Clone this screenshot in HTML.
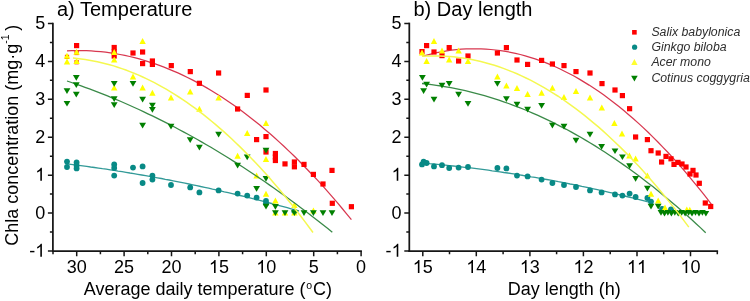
<!DOCTYPE html><html><head><meta charset="utf-8"><style>html,body{margin:0;padding:0;background:#fff;}svg{display:block;font-family:"Liberation Sans",sans-serif;will-change:transform;}</style></head><body>
<svg width="750" height="301" viewBox="0 0 750 301">
<rect width="750" height="301" fill="#fff"/>
<path d="M52.9,22.649999999999988 L52.9,252.0" stroke="#161616" stroke-width="1.75" fill="none"/>
<path d="M52.0,251.0 L361.90000000000003,251.0" stroke="#161616" stroke-width="1.75" fill="none"/>
<path d="M47.9,251.0 L52.9,251.0 M47.9,213.1 L52.9,213.1 M47.9,175.2 L52.9,175.2 M47.9,137.2 L52.9,137.2 M47.9,99.3 L52.9,99.3 M47.9,61.4 L52.9,61.4 M47.9,23.4 L52.9,23.4 M49.9,232.1 L52.9,232.1 M49.9,194.1 L52.9,194.1 M49.9,156.2 L52.9,156.2 M49.9,118.3 L52.9,118.3 M49.9,80.3 L52.9,80.3 M49.9,42.4 L52.9,42.4 M76.7,251.0 L76.7,256.2 M124.1,251.0 L124.1,256.2 M171.5,251.0 L171.5,256.2 M218.9,251.0 L218.9,256.2 M266.3,251.0 L266.3,256.2 M313.7,251.0 L313.7,256.2 M361.1,251.0 L361.1,256.2 M53.0,251.0 L53.0,254.3 M100.4,251.0 L100.4,254.3 M147.8,251.0 L147.8,254.3 M195.2,251.0 L195.2,254.3 M242.6,251.0 L242.6,254.3 M290.0,251.0 L290.0,254.3 M337.4,251.0 L337.4,254.3" stroke="#161616" stroke-width="1.5" fill="none"/>
<text x="29.20" y="256.63" font-size="18" fill="#000">-</text><path d="M763 0H583V1147Q518 1085 412.5 1023Q307 961 223 930V1104Q374 1175 487 1276Q600 1377 647 1472H763V0Z" transform="translate(35.19,256.63) scale(0.00879,-0.00879)" fill="#000"/>
<text x="35.19" y="218.70" font-size="18" fill="#000">0</text>
<path d="M763 0H583V1147Q518 1085 412.5 1023Q307 961 223 930V1104Q374 1175 487 1276Q600 1377 647 1472H763V0Z" transform="translate(35.19,180.77) scale(0.00879,-0.00879)" fill="#000"/>
<text x="35.19" y="142.84" font-size="18" fill="#000">2</text>
<text x="35.19" y="104.91" font-size="18" fill="#000">3</text>
<text x="35.19" y="66.98" font-size="18" fill="#000">4</text>
<text x="35.19" y="29.05" font-size="18" fill="#000">5</text>
<text x="66.69" y="273.00" font-size="18" fill="#000">3</text><text x="76.70" y="273.00" font-size="18" fill="#000">0</text>
<text x="114.09" y="273.00" font-size="18" fill="#000">2</text><text x="124.10" y="273.00" font-size="18" fill="#000">5</text>
<text x="161.49" y="273.00" font-size="18" fill="#000">2</text><text x="171.50" y="273.00" font-size="18" fill="#000">0</text>
<path d="M763 0H583V1147Q518 1085 412.5 1023Q307 961 223 930V1104Q374 1175 487 1276Q600 1377 647 1472H763V0Z" transform="translate(208.89,273.00) scale(0.00879,-0.00879)" fill="#000"/><text x="218.90" y="273.00" font-size="18" fill="#000">5</text>
<path d="M763 0H583V1147Q518 1085 412.5 1023Q307 961 223 930V1104Q374 1175 487 1276Q600 1377 647 1472H763V0Z" transform="translate(256.29,273.00) scale(0.00879,-0.00879)" fill="#000"/><text x="266.30" y="273.00" font-size="18" fill="#000">0</text>
<text x="308.69" y="273.00" font-size="18" fill="#000">5</text>
<text x="356.09" y="273.00" font-size="18" fill="#000">0</text>
<path d="M409.3,22.649999999999988 L409.3,252.0" stroke="#161616" stroke-width="1.75" fill="none"/>
<path d="M408.40000000000003,251.0 L718.0999999999999,251.0" stroke="#161616" stroke-width="1.75" fill="none"/>
<path d="M404.3,251.0 L409.3,251.0 M404.3,213.1 L409.3,213.1 M404.3,175.2 L409.3,175.2 M404.3,137.2 L409.3,137.2 M404.3,99.3 L409.3,99.3 M404.3,61.4 L409.3,61.4 M404.3,23.4 L409.3,23.4 M406.3,232.1 L409.3,232.1 M406.3,194.1 L409.3,194.1 M406.3,156.2 L409.3,156.2 M406.3,118.3 L409.3,118.3 M406.3,80.3 L409.3,80.3 M406.3,42.4 L409.3,42.4 M422.8,251.0 L422.8,256.2 M476.3,251.0 L476.3,256.2 M529.9,251.0 L529.9,256.2 M583.4,251.0 L583.4,256.2 M637.0,251.0 L637.0,256.2 M690.5,251.0 L690.5,256.2 M449.5,251.0 L449.5,254.3 M503.1,251.0 L503.1,254.3 M556.6,251.0 L556.6,254.3 M610.2,251.0 L610.2,254.3 M663.7,251.0 L663.7,254.3 M717.3,251.0 L717.3,254.3" stroke="#161616" stroke-width="1.5" fill="none"/>
<text x="385.60" y="256.63" font-size="18" fill="#000">-</text><path d="M763 0H583V1147Q518 1085 412.5 1023Q307 961 223 930V1104Q374 1175 487 1276Q600 1377 647 1472H763V0Z" transform="translate(391.59,256.63) scale(0.00879,-0.00879)" fill="#000"/>
<text x="391.59" y="218.70" font-size="18" fill="#000">0</text>
<path d="M763 0H583V1147Q518 1085 412.5 1023Q307 961 223 930V1104Q374 1175 487 1276Q600 1377 647 1472H763V0Z" transform="translate(391.59,180.77) scale(0.00879,-0.00879)" fill="#000"/>
<text x="391.59" y="142.84" font-size="18" fill="#000">2</text>
<text x="391.59" y="104.91" font-size="18" fill="#000">3</text>
<text x="391.59" y="66.98" font-size="18" fill="#000">4</text>
<text x="391.59" y="29.05" font-size="18" fill="#000">5</text>
<path d="M763 0H583V1147Q518 1085 412.5 1023Q307 961 223 930V1104Q374 1175 487 1276Q600 1377 647 1472H763V0Z" transform="translate(412.74,273.00) scale(0.00879,-0.00879)" fill="#000"/><text x="422.75" y="273.00" font-size="18" fill="#000">5</text>
<path d="M763 0H583V1147Q518 1085 412.5 1023Q307 961 223 930V1104Q374 1175 487 1276Q600 1377 647 1472H763V0Z" transform="translate(466.29,273.00) scale(0.00879,-0.00879)" fill="#000"/><text x="476.30" y="273.00" font-size="18" fill="#000">4</text>
<path d="M763 0H583V1147Q518 1085 412.5 1023Q307 961 223 930V1104Q374 1175 487 1276Q600 1377 647 1472H763V0Z" transform="translate(519.84,273.00) scale(0.00879,-0.00879)" fill="#000"/><text x="529.85" y="273.00" font-size="18" fill="#000">3</text>
<path d="M763 0H583V1147Q518 1085 412.5 1023Q307 961 223 930V1104Q374 1175 487 1276Q600 1377 647 1472H763V0Z" transform="translate(573.39,273.00) scale(0.00879,-0.00879)" fill="#000"/><text x="583.40" y="273.00" font-size="18" fill="#000">2</text>
<path d="M763 0H583V1147Q518 1085 412.5 1023Q307 961 223 930V1104Q374 1175 487 1276Q600 1377 647 1472H763V0Z" transform="translate(626.94,273.00) scale(0.00879,-0.00879)" fill="#000"/><path d="M763 0H583V1147Q518 1085 412.5 1023Q307 961 223 930V1104Q374 1175 487 1276Q600 1377 647 1472H763V0Z" transform="translate(636.95,273.00) scale(0.00879,-0.00879)" fill="#000"/>
<path d="M763 0H583V1147Q518 1085 412.5 1023Q307 961 223 930V1104Q374 1175 487 1276Q600 1377 647 1472H763V0Z" transform="translate(680.49,273.00) scale(0.00879,-0.00879)" fill="#000"/><text x="690.50" y="273.00" font-size="18" fill="#000">0</text>
<text x="57" y="15.6" font-size="20" fill="#000">a) Temperature</text>
<text x="413.5" y="15.6" font-size="20" fill="#000">b) Day length</text>
<text x="83.8" y="294.6" font-size="18" fill="#000">Average daily temperature (<tspan font-size="10.5" dy="-6" dx="0.6">o</tspan><tspan dy="6" dx="0.9">C)</tspan></text>
<text x="507.8" y="294.6" font-size="18" fill="#000">Day length (h)</text>
<text transform="translate(17.8,245.8) rotate(-90)" x="0" y="0" font-size="18" fill="#000">Chla concentration (mg·g<tspan font-size="10.5" dy="-8.5">-1</tspan><tspan dy="8.5" dx="3.5">)</tspan></text>
<path d="M67.0,163.9 L70.9,164.4 L74.9,164.9 L78.8,165.4 L82.7,165.9 L86.7,166.4 L90.6,167.0 L94.5,167.5 L98.5,168.1 L102.4,168.7 L106.3,169.2 L110.3,169.8 L114.2,170.4 L118.1,171.1 L122.1,171.7 L126.0,172.3 L129.9,173.0 L133.8,173.6 L137.8,174.3 L141.7,175.0 L145.6,175.7 L149.6,176.4 L153.5,177.1 L157.4,177.8 L161.4,178.5 L165.3,179.3 L169.2,180.0 L173.2,180.8 L177.1,181.6 L181.0,182.4 L185.0,183.2 L188.9,184.0 L192.8,184.8 L196.8,185.6 L200.7,186.5 L204.6,187.3 L208.6,188.2 L212.5,189.1 L216.4,189.9 L220.4,190.8 L224.3,191.8 L228.2,192.7 L232.2,193.6 L236.1,194.5 L240.0,195.5 L243.9,196.4 L247.9,197.4 L251.8,198.4 L255.7,199.4 L259.7,200.4 L263.6,201.4 L267.5,202.4 L271.5,203.5 L275.4,204.5 L279.3,205.6 L283.3,206.7 L287.2,207.7 L291.1,208.8 L295.1,209.9 L299.0,211.0" stroke="#339a98" stroke-width="1.35" fill="none"/>
<path d="M422.0,163.0 L425.9,163.3 L429.8,163.7 L433.7,164.0 L437.6,164.4 L441.5,164.8 L445.4,165.2 L449.3,165.6 L453.2,166.0 L457.1,166.4 L461.0,166.8 L464.9,167.3 L468.8,167.7 L472.7,168.2 L476.6,168.7 L480.5,169.2 L484.4,169.7 L488.3,170.2 L492.2,170.8 L496.1,171.3 L500.0,171.9 L503.9,172.5 L507.8,173.0 L511.7,173.6 L515.6,174.2 L519.5,174.8 L523.4,175.5 L527.3,176.1 L531.2,176.8 L535.1,177.4 L538.9,178.1 L542.8,178.8 L546.7,179.5 L550.6,180.2 L554.5,180.9 L558.4,181.7 L562.3,182.4 L566.2,183.2 L570.1,184.0 L574.0,184.7 L577.9,185.5 L581.8,186.4 L585.7,187.2 L589.6,188.0 L593.5,188.8 L597.4,189.7 L601.3,190.6 L605.2,191.4 L609.1,192.3 L613.0,193.2 L616.9,194.2 L620.8,195.1 L624.7,196.0 L628.6,197.0 L632.5,197.9 L636.4,198.9 L640.3,199.9 L644.2,200.9 L648.1,201.9 L652.0,202.9" stroke="#339a98" stroke-width="1.35" fill="none"/>
<circle cx="67.0" cy="161.6" r="2.9" fill="#088a86"/>
<circle cx="67.0" cy="167.0" r="2.9" fill="#088a86"/>
<circle cx="76.6" cy="162.4" r="2.9" fill="#088a86"/>
<circle cx="76.6" cy="165.6" r="2.9" fill="#088a86"/>
<circle cx="76.6" cy="168.4" r="2.9" fill="#088a86"/>
<circle cx="114.2" cy="164.4" r="2.9" fill="#088a86"/>
<circle cx="114.2" cy="168.0" r="2.9" fill="#088a86"/>
<circle cx="114.2" cy="175.6" r="2.9" fill="#088a86"/>
<circle cx="133.0" cy="167.6" r="2.9" fill="#088a86"/>
<circle cx="142.6" cy="166.4" r="2.9" fill="#088a86"/>
<circle cx="142.6" cy="183.0" r="2.9" fill="#088a86"/>
<circle cx="152.4" cy="175.6" r="2.9" fill="#088a86"/>
<circle cx="152.4" cy="179.6" r="2.9" fill="#088a86"/>
<circle cx="171.0" cy="185.0" r="2.9" fill="#088a86"/>
<circle cx="190.2" cy="187.4" r="2.9" fill="#088a86"/>
<circle cx="199.4" cy="192.4" r="2.9" fill="#088a86"/>
<circle cx="218.6" cy="190.4" r="2.9" fill="#088a86"/>
<circle cx="237.6" cy="193.6" r="2.9" fill="#088a86"/>
<circle cx="247.2" cy="195.6" r="2.9" fill="#088a86"/>
<circle cx="256.6" cy="197.6" r="2.9" fill="#088a86"/>
<circle cx="266.0" cy="201.0" r="2.9" fill="#088a86"/>
<circle cx="266.0" cy="203.6" r="2.9" fill="#088a86"/>
<circle cx="294.4" cy="211.6" r="2.9" fill="#088a86"/>
<circle cx="422.0" cy="164.4" r="2.9" fill="#088a86"/>
<circle cx="423.6" cy="161.6" r="2.9" fill="#088a86"/>
<circle cx="426.6" cy="163.0" r="2.9" fill="#088a86"/>
<circle cx="434.0" cy="166.4" r="2.9" fill="#088a86"/>
<circle cx="442.0" cy="165.2" r="2.9" fill="#088a86"/>
<circle cx="449.2" cy="168.0" r="2.9" fill="#088a86"/>
<circle cx="458.6" cy="167.6" r="2.9" fill="#088a86"/>
<circle cx="468.0" cy="167.0" r="2.9" fill="#088a86"/>
<circle cx="497.4" cy="168.0" r="2.9" fill="#088a86"/>
<circle cx="506.4" cy="168.4" r="2.9" fill="#088a86"/>
<circle cx="517.0" cy="175.6" r="2.9" fill="#088a86"/>
<circle cx="527.6" cy="176.4" r="2.9" fill="#088a86"/>
<circle cx="541.6" cy="179.6" r="2.9" fill="#088a86"/>
<circle cx="552.4" cy="183.0" r="2.9" fill="#088a86"/>
<circle cx="564.0" cy="185.0" r="2.9" fill="#088a86"/>
<circle cx="576.0" cy="187.0" r="2.9" fill="#088a86"/>
<circle cx="590.0" cy="190.4" r="2.9" fill="#088a86"/>
<circle cx="601.6" cy="192.4" r="2.9" fill="#088a86"/>
<circle cx="615.0" cy="194.4" r="2.9" fill="#088a86"/>
<circle cx="622.4" cy="195.6" r="2.9" fill="#088a86"/>
<circle cx="629.6" cy="193.6" r="2.9" fill="#088a86"/>
<circle cx="635.6" cy="197.0" r="2.9" fill="#088a86"/>
<circle cx="647.4" cy="198.0" r="2.9" fill="#088a86"/>
<circle cx="651.0" cy="201.6" r="2.9" fill="#088a86"/>
<circle cx="662.0" cy="208.8" r="2.9" fill="#088a86"/>
<circle cx="671.0" cy="209.3" r="2.9" fill="#088a86"/>
<path d="M67.0,50.9 L71.8,50.7 L76.6,50.6 L81.5,50.6 L86.3,50.7 L91.1,50.9 L95.9,51.3 L100.7,51.7 L105.6,52.2 L110.4,52.9 L115.2,53.6 L120.0,54.5 L124.8,55.4 L129.7,56.5 L134.5,57.6 L139.3,58.9 L144.1,60.3 L148.9,61.8 L153.8,63.4 L158.6,65.1 L163.4,66.9 L168.2,68.8 L173.0,70.8 L177.9,72.9 L182.7,75.1 L187.5,77.5 L192.3,79.9 L197.1,82.4 L202.0,85.1 L206.8,87.9 L211.6,90.7 L216.4,93.7 L221.3,96.8 L226.1,99.9 L230.9,103.2 L235.7,106.6 L240.5,110.1 L245.4,113.7 L250.2,117.4 L255.0,121.2 L259.8,125.1 L264.6,129.2 L269.5,133.3 L274.3,137.5 L279.1,141.9 L283.9,146.3 L288.7,150.9 L293.6,155.5 L298.4,160.3 L303.2,165.2 L308.0,170.2 L312.8,175.2 L317.7,180.4 L322.5,185.7 L327.3,191.1 L332.1,196.6 L336.9,202.2 L341.8,208.0 L346.6,213.8 L351.4,219.7" stroke="#d8374f" stroke-width="1.25" fill="none"/>
<path d="M422.0,56.4 L426.9,55.1 L431.8,53.8 L436.7,52.7 L441.7,51.8 L446.6,50.9 L451.5,50.2 L456.4,49.7 L461.3,49.2 L466.2,48.9 L471.2,48.8 L476.1,48.8 L481.0,48.9 L485.9,49.1 L490.8,49.5 L495.7,50.0 L500.6,50.6 L505.6,51.4 L510.5,52.3 L515.4,53.3 L520.3,54.5 L525.2,55.8 L530.1,57.3 L535.1,58.9 L540.0,60.6 L544.9,62.4 L549.8,64.4 L554.7,66.5 L559.6,68.8 L564.5,71.2 L569.5,73.7 L574.4,76.3 L579.3,79.1 L584.2,82.1 L589.1,85.1 L594.0,88.3 L598.9,91.6 L603.9,95.1 L608.8,98.7 L613.7,102.4 L618.6,106.3 L623.5,110.3 L628.4,114.4 L633.4,118.7 L638.3,123.1 L643.2,127.6 L648.1,132.3 L653.0,137.1 L657.9,142.0 L662.8,147.1 L667.8,152.3 L672.7,157.6 L677.6,163.1 L682.5,168.7 L687.4,174.4 L692.3,180.3 L697.3,186.3 L702.2,192.4 L707.1,198.7 L712.0,205.1" stroke="#d8374f" stroke-width="1.25" fill="none"/>
<rect x="74.0" y="43.0" width="5.2" height="5.2" fill="#ff0000"/>
<rect x="111.6" y="44.9" width="5.2" height="5.2" fill="#ff0000"/>
<rect x="111.6" y="49.4" width="5.2" height="5.2" fill="#ff0000"/>
<rect x="111.6" y="53.4" width="5.2" height="5.2" fill="#ff0000"/>
<rect x="130.4" y="50.4" width="5.2" height="5.2" fill="#ff0000"/>
<rect x="140.0" y="49.4" width="5.2" height="5.2" fill="#ff0000"/>
<rect x="140.0" y="61.0" width="5.2" height="5.2" fill="#ff0000"/>
<rect x="149.8" y="58.4" width="5.2" height="5.2" fill="#ff0000"/>
<rect x="149.8" y="61.8" width="5.2" height="5.2" fill="#ff0000"/>
<rect x="168.7" y="63.0" width="5.2" height="5.2" fill="#ff0000"/>
<rect x="187.7" y="69.0" width="5.2" height="5.2" fill="#ff0000"/>
<rect x="196.8" y="80.7" width="5.2" height="5.2" fill="#ff0000"/>
<rect x="216.0" y="70.4" width="5.2" height="5.2" fill="#ff0000"/>
<rect x="235.0" y="106.4" width="5.2" height="5.2" fill="#ff0000"/>
<rect x="244.7" y="92.8" width="5.2" height="5.2" fill="#ff0000"/>
<rect x="254.0" y="137.0" width="5.2" height="5.2" fill="#ff0000"/>
<rect x="263.4" y="87.4" width="5.2" height="5.2" fill="#ff0000"/>
<rect x="263.4" y="134.0" width="5.2" height="5.2" fill="#ff0000"/>
<rect x="263.4" y="149.4" width="5.2" height="5.2" fill="#ff0000"/>
<rect x="272.8" y="150.9" width="5.2" height="5.2" fill="#ff0000"/>
<rect x="272.8" y="154.4" width="5.2" height="5.2" fill="#ff0000"/>
<rect x="272.8" y="157.9" width="5.2" height="5.2" fill="#ff0000"/>
<rect x="282.4" y="161.3" width="5.2" height="5.2" fill="#ff0000"/>
<rect x="291.8" y="159.4" width="5.2" height="5.2" fill="#ff0000"/>
<rect x="291.8" y="164.2" width="5.2" height="5.2" fill="#ff0000"/>
<rect x="301.4" y="161.8" width="5.2" height="5.2" fill="#ff0000"/>
<rect x="310.8" y="171.8" width="5.2" height="5.2" fill="#ff0000"/>
<rect x="320.4" y="181.4" width="5.2" height="5.2" fill="#ff0000"/>
<rect x="329.4" y="167.8" width="5.2" height="5.2" fill="#ff0000"/>
<rect x="329.7" y="200.7" width="5.2" height="5.2" fill="#ff0000"/>
<rect x="348.8" y="204.1" width="5.2" height="5.2" fill="#ff0000"/>
<rect x="424.0" y="43.0" width="5.2" height="5.2" fill="#ff0000"/>
<rect x="419.4" y="49.0" width="5.2" height="5.2" fill="#ff0000"/>
<rect x="431.4" y="49.4" width="5.2" height="5.2" fill="#ff0000"/>
<rect x="439.4" y="53.0" width="5.2" height="5.2" fill="#ff0000"/>
<rect x="446.6" y="45.0" width="5.2" height="5.2" fill="#ff0000"/>
<rect x="456.0" y="58.4" width="5.2" height="5.2" fill="#ff0000"/>
<rect x="465.4" y="53.4" width="5.2" height="5.2" fill="#ff0000"/>
<rect x="494.8" y="50.4" width="5.2" height="5.2" fill="#ff0000"/>
<rect x="503.8" y="45.0" width="5.2" height="5.2" fill="#ff0000"/>
<rect x="514.4" y="57.4" width="5.2" height="5.2" fill="#ff0000"/>
<rect x="525.0" y="61.8" width="5.2" height="5.2" fill="#ff0000"/>
<rect x="539.0" y="57.8" width="5.2" height="5.2" fill="#ff0000"/>
<rect x="549.8" y="61.4" width="5.2" height="5.2" fill="#ff0000"/>
<rect x="561.4" y="63.0" width="5.2" height="5.2" fill="#ff0000"/>
<rect x="573.4" y="69.0" width="5.2" height="5.2" fill="#ff0000"/>
<rect x="587.4" y="70.4" width="5.2" height="5.2" fill="#ff0000"/>
<rect x="599.4" y="81.0" width="5.2" height="5.2" fill="#ff0000"/>
<rect x="612.4" y="87.4" width="5.2" height="5.2" fill="#ff0000"/>
<rect x="619.8" y="93.0" width="5.2" height="5.2" fill="#ff0000"/>
<rect x="627.0" y="106.1" width="5.2" height="5.2" fill="#ff0000"/>
<rect x="633.0" y="134.4" width="5.2" height="5.2" fill="#ff0000"/>
<rect x="644.8" y="137.0" width="5.2" height="5.2" fill="#ff0000"/>
<rect x="648.4" y="148.1" width="5.2" height="5.2" fill="#ff0000"/>
<rect x="655.6" y="150.4" width="5.2" height="5.2" fill="#ff0000"/>
<rect x="663.4" y="153.8" width="5.2" height="5.2" fill="#ff0000"/>
<rect x="668.4" y="156.2" width="5.2" height="5.2" fill="#ff0000"/>
<rect x="659.0" y="159.4" width="5.2" height="5.2" fill="#ff0000"/>
<rect x="671.4" y="161.8" width="5.2" height="5.2" fill="#ff0000"/>
<rect x="675.4" y="159.8" width="5.2" height="5.2" fill="#ff0000"/>
<rect x="679.4" y="161.4" width="5.2" height="5.2" fill="#ff0000"/>
<rect x="683.4" y="164.4" width="5.2" height="5.2" fill="#ff0000"/>
<rect x="687.4" y="171.4" width="5.2" height="5.2" fill="#ff0000"/>
<rect x="690.4" y="167.8" width="5.2" height="5.2" fill="#ff0000"/>
<rect x="693.4" y="172.4" width="5.2" height="5.2" fill="#ff0000"/>
<rect x="696.7" y="180.7" width="5.2" height="5.2" fill="#ff0000"/>
<rect x="702.7" y="200.4" width="5.2" height="5.2" fill="#ff0000"/>
<rect x="708.1" y="203.9" width="5.2" height="5.2" fill="#ff0000"/>
<rect x="64.9" y="54.8" width="4.2" height="4.2" fill="#ff0000"/><rect x="74.5" y="50.9" width="4.2" height="4.2" fill="#ff0000"/><rect x="74.5" y="60.1" width="4.2" height="4.2" fill="#ff0000"/>
<path d="M67.0,52.7 L70.2,58.7 L63.8,58.7Z" fill="#ffff00"/>
<path d="M67.0,58.4 L70.2,64.4 L63.8,64.4Z" fill="#ffff00"/>
<path d="M76.6,48.8 L79.8,54.8 L73.4,54.8Z" fill="#ffff00"/>
<path d="M76.6,58.0 L79.8,64.0 L73.4,64.0Z" fill="#ffff00"/>
<path d="M114.2,48.9 L117.4,54.9 L111.0,54.9Z" fill="#ffff00"/>
<path d="M114.2,56.4 L117.4,62.4 L111.0,62.4Z" fill="#ffff00"/>
<path d="M142.6,38.0 L145.8,44.0 L139.4,44.0Z" fill="#ffff00"/>
<path d="M133.0,73.4 L136.2,79.4 L129.8,79.4Z" fill="#ffff00"/>
<path d="M114.2,84.4 L117.4,90.4 L111.0,90.4Z" fill="#ffff00"/>
<path d="M142.6,84.4 L145.8,90.4 L139.4,90.4Z" fill="#ffff00"/>
<path d="M152.4,89.8 L155.6,95.8 L149.2,95.8Z" fill="#ffff00"/>
<path d="M171.0,94.4 L174.2,100.4 L167.8,100.4Z" fill="#ffff00"/>
<path d="M190.2,88.4 L193.4,94.4 L187.0,94.4Z" fill="#ffff00"/>
<path d="M199.4,105.8 L202.6,111.8 L196.2,111.8Z" fill="#ffff00"/>
<path d="M218.6,94.4 L221.8,100.4 L215.4,100.4Z" fill="#ffff00"/>
<path d="M237.6,152.8 L240.8,158.8 L234.4,158.8Z" fill="#ffff00"/>
<path d="M247.2,130.0 L250.4,136.0 L244.0,136.0Z" fill="#ffff00"/>
<path d="M256.6,172.4 L259.8,178.4 L253.4,178.4Z" fill="#ffff00"/>
<path d="M266.0,120.0 L269.2,126.0 L262.8,126.0Z" fill="#ffff00"/>
<path d="M266.0,156.0 L269.2,162.0 L262.8,162.0Z" fill="#ffff00"/>
<path d="M266.0,190.8 L269.2,196.8 L262.8,196.8Z" fill="#ffff00"/>
<path d="M275.4,197.4 L278.6,203.4 L272.2,203.4Z" fill="#ffff00"/>
<path d="M294.4,202.0 L297.6,208.0 L291.2,208.0Z" fill="#ffff00"/>
<path d="M275.4,209.6 L278.6,215.6 L272.2,215.6Z" fill="#ffff00"/>
<path d="M285.0,209.6 L288.2,215.6 L281.8,215.6Z" fill="#ffff00"/>
<path d="M294.4,209.6 L297.6,215.6 L291.2,215.6Z" fill="#ffff00"/>
<path d="M313.4,207.4 L316.6,213.4 L310.2,213.4Z" fill="#ffff00"/>
<path d="M434.0,38.0 L437.2,44.0 L430.8,44.0Z" fill="#ffff00"/>
<path d="M422.0,49.4 L425.2,55.4 L418.8,55.4Z" fill="#ffff00"/>
<path d="M426.6,58.0 L429.8,64.0 L423.4,64.0Z" fill="#ffff00"/>
<path d="M442.0,47.4 L445.2,53.4 L438.8,53.4Z" fill="#ffff00"/>
<path d="M449.2,56.4 L452.4,62.4 L446.0,62.4Z" fill="#ffff00"/>
<path d="M458.6,47.4 L461.8,53.4 L455.4,53.4Z" fill="#ffff00"/>
<path d="M468.0,58.0 L471.2,64.0 L464.8,64.0Z" fill="#ffff00"/>
<path d="M497.4,73.4 L500.6,79.4 L494.2,79.4Z" fill="#ffff00"/>
<path d="M506.4,82.4 L509.6,88.4 L503.2,88.4Z" fill="#ffff00"/>
<path d="M517.0,85.0 L520.2,91.0 L513.8,91.0Z" fill="#ffff00"/>
<path d="M527.6,91.0 L530.8,97.0 L524.4,97.0Z" fill="#ffff00"/>
<path d="M541.6,89.8 L544.8,95.8 L538.4,95.8Z" fill="#ffff00"/>
<path d="M552.4,84.7 L555.6,90.7 L549.2,90.7Z" fill="#ffff00"/>
<path d="M564.0,94.0 L567.2,100.0 L560.8,100.0Z" fill="#ffff00"/>
<path d="M576.0,88.0 L579.2,94.0 L572.8,94.0Z" fill="#ffff00"/>
<path d="M590.0,94.4 L593.2,100.4 L586.8,100.4Z" fill="#ffff00"/>
<path d="M601.8,104.6 L605.0,110.6 L598.6,110.6Z" fill="#ffff00"/>
<path d="M614.4,120.0 L617.6,126.0 L611.2,126.0Z" fill="#ffff00"/>
<path d="M622.0,130.4 L625.2,136.4 L618.8,136.4Z" fill="#ffff00"/>
<path d="M629.4,152.6 L632.6,158.6 L626.2,158.6Z" fill="#ffff00"/>
<path d="M635.6,155.4 L638.8,161.4 L632.4,161.4Z" fill="#ffff00"/>
<path d="M647.4,172.4 L650.6,178.4 L644.2,178.4Z" fill="#ffff00"/>
<path d="M651.0,190.8 L654.2,196.8 L647.8,196.8Z" fill="#ffff00"/>
<path d="M658.2,197.4 L661.4,203.4 L655.0,203.4Z" fill="#ffff00"/>
<path d="M665.0,204.4 L668.2,210.4 L661.8,210.4Z" fill="#ffff00"/>
<path d="M686.8,206.4 L690.0,212.4 L683.6,212.4Z" fill="#ffff00"/>
<path d="M689.8,206.7 L693.0,212.7 L686.6,212.7Z" fill="#ffff00"/>
<path d="M67.0,81.0 L71.5,82.5 L76.0,84.1 L80.5,85.7 L85.0,87.3 L89.5,88.9 L94.0,90.6 L98.5,92.4 L103.0,94.1 L107.5,95.9 L112.0,97.8 L116.5,99.6 L121.0,101.5 L125.5,103.5 L130.0,105.5 L134.4,107.5 L138.9,109.5 L143.4,111.6 L147.9,113.8 L152.4,115.9 L156.9,118.1 L161.4,120.4 L165.9,122.6 L170.4,124.9 L174.9,127.3 L179.4,129.7 L183.9,132.1 L188.4,134.5 L192.9,137.0 L197.4,139.5 L201.9,142.1 L206.4,144.7 L210.9,147.3 L215.4,150.0 L219.9,152.7 L224.4,155.5 L228.9,158.2 L233.4,161.1 L237.9,163.9 L242.4,166.8 L246.9,169.7 L251.4,172.7 L255.9,175.7 L260.4,178.7 L264.9,181.8 L269.3,184.9 L273.8,188.0 L278.3,191.2 L282.8,194.4 L287.3,197.7 L291.8,201.0 L296.3,204.3 L300.8,207.7 L305.3,211.1 L309.8,214.5 L314.3,218.0 L318.8,221.5 L323.3,225.0 L327.8,228.6 L332.3,232.2" stroke="#3a8a48" stroke-width="1.3" fill="none"/>
<path d="M422.0,83.5 L426.8,84.0 L431.6,84.6 L436.4,85.3 L441.2,86.0 L446.0,86.8 L450.9,87.7 L455.7,88.6 L460.5,89.6 L465.3,90.7 L470.1,91.9 L474.9,93.1 L479.7,94.4 L484.5,95.7 L489.3,97.1 L494.1,98.6 L498.9,100.2 L503.7,101.8 L508.6,103.5 L513.4,105.3 L518.2,107.1 L523.0,109.0 L527.8,111.0 L532.6,113.1 L537.4,115.2 L542.2,117.4 L547.0,119.6 L551.8,121.9 L556.6,124.3 L561.4,126.8 L566.3,129.3 L571.1,131.9 L575.9,134.6 L580.7,137.3 L585.5,140.1 L590.3,143.0 L595.1,145.9 L599.9,149.0 L604.7,152.0 L609.5,155.2 L614.3,158.4 L619.1,161.7 L624.0,165.1 L628.8,168.5 L633.6,172.0 L638.4,175.5 L643.2,179.2 L648.0,182.9 L652.8,186.6 L657.6,190.5 L662.4,194.4 L667.2,198.4 L672.0,202.4 L676.8,206.5 L681.7,210.7 L686.5,215.0 L691.3,219.3 L696.1,223.7 L700.9,228.1 L705.7,232.7" stroke="#3a8a48" stroke-width="1.3" fill="none"/>
<path d="M72.9,75.0 L79.7,75.0 L76.3,80.7Z" fill="#008000"/>
<path d="M72.9,82.3 L79.7,82.3 L76.3,88.0Z" fill="#008000"/>
<path d="M63.6,88.3 L70.4,88.3 L67.0,94.0Z" fill="#008000"/>
<path d="M72.9,91.7 L79.7,91.7 L76.3,97.4Z" fill="#008000"/>
<path d="M63.6,100.9 L70.4,100.9 L67.0,106.6Z" fill="#008000"/>
<path d="M110.8,81.1 L117.6,81.1 L114.2,86.8Z" fill="#008000"/>
<path d="M110.8,96.3 L117.6,96.3 L114.2,102.0Z" fill="#008000"/>
<path d="M110.8,102.3 L117.6,102.3 L114.2,108.0Z" fill="#008000"/>
<path d="M129.6,81.1 L136.4,81.1 L133.0,86.8Z" fill="#008000"/>
<path d="M139.2,96.7 L146.0,96.7 L142.6,102.4Z" fill="#008000"/>
<path d="M149.0,102.7 L155.8,102.7 L152.4,108.4Z" fill="#008000"/>
<path d="M149.0,107.1 L155.8,107.1 L152.4,112.8Z" fill="#008000"/>
<path d="M139.2,122.7 L146.0,122.7 L142.6,128.4Z" fill="#008000"/>
<path d="M167.6,123.7 L174.4,123.7 L171.0,129.4Z" fill="#008000"/>
<path d="M186.8,137.3 L193.6,137.3 L190.2,143.0Z" fill="#008000"/>
<path d="M196.0,144.7 L202.8,144.7 L199.4,150.4Z" fill="#008000"/>
<path d="M215.2,131.7 L222.0,131.7 L218.6,137.4Z" fill="#008000"/>
<path d="M234.2,162.7 L241.0,162.7 L237.6,168.4Z" fill="#008000"/>
<path d="M262.6,147.7 L269.4,147.7 L266.0,153.4Z" fill="#008000"/>
<path d="M243.8,154.5 L250.6,154.5 L247.2,160.2Z" fill="#008000"/>
<path d="M262.6,176.1 L269.4,176.1 L266.0,181.8Z" fill="#008000"/>
<path d="M253.2,186.1 L260.0,186.1 L256.6,191.8Z" fill="#008000"/>
<path d="M262.6,203.7 L269.4,203.7 L266.0,209.4Z" fill="#008000"/>
<path d="M272.0,204.1 L278.8,204.1 L275.4,209.8Z" fill="#008000"/>
<path d="M272.0,210.2 L278.8,210.2 L275.4,215.9Z" fill="#008000"/>
<path d="M281.6,210.2 L288.4,210.2 L285.0,215.9Z" fill="#008000"/>
<path d="M291.0,210.2 L297.8,210.2 L294.4,215.9Z" fill="#008000"/>
<path d="M300.6,210.2 L307.4,210.2 L304.0,215.9Z" fill="#008000"/>
<path d="M310.0,210.2 L316.8,210.2 L313.4,215.9Z" fill="#008000"/>
<path d="M319.6,210.2 L326.4,210.2 L323.0,215.9Z" fill="#008000"/>
<path d="M328.6,210.2 L335.4,210.2 L332.0,215.9Z" fill="#008000"/>
<path d="M419.0,75.1 L425.8,75.1 L422.4,80.8Z" fill="#008000"/>
<path d="M423.2,81.7 L430.0,81.7 L426.6,87.4Z" fill="#008000"/>
<path d="M420.2,88.3 L427.0,88.3 L423.6,94.0Z" fill="#008000"/>
<path d="M430.6,96.7 L437.4,96.7 L434.0,102.4Z" fill="#008000"/>
<path d="M438.6,82.7 L445.4,82.7 L442.0,88.4Z" fill="#008000"/>
<path d="M445.8,81.1 L452.6,81.1 L449.2,86.8Z" fill="#008000"/>
<path d="M455.2,91.7 L462.0,91.7 L458.6,97.4Z" fill="#008000"/>
<path d="M464.6,101.1 L471.4,101.1 L468.0,106.8Z" fill="#008000"/>
<path d="M494.0,81.1 L500.8,81.1 L497.4,86.8Z" fill="#008000"/>
<path d="M503.0,96.3 L509.8,96.3 L506.4,102.0Z" fill="#008000"/>
<path d="M513.6,101.7 L520.4,101.7 L517.0,107.4Z" fill="#008000"/>
<path d="M524.2,106.7 L531.0,106.7 L527.6,112.4Z" fill="#008000"/>
<path d="M538.2,103.1 L545.0,103.1 L541.6,108.8Z" fill="#008000"/>
<path d="M549.0,122.7 L555.8,122.7 L552.4,128.4Z" fill="#008000"/>
<path d="M560.6,123.7 L567.4,123.7 L564.0,129.4Z" fill="#008000"/>
<path d="M572.6,137.7 L579.4,137.7 L576.0,143.4Z" fill="#008000"/>
<path d="M586.6,131.7 L593.4,131.7 L590.0,137.4Z" fill="#008000"/>
<path d="M598.2,144.1 L605.0,144.1 L601.6,149.8Z" fill="#008000"/>
<path d="M611.6,148.4 L618.4,148.4 L615.0,154.1Z" fill="#008000"/>
<path d="M619.0,154.4 L625.8,154.4 L622.4,160.1Z" fill="#008000"/>
<path d="M626.2,163.3 L633.0,163.3 L629.6,169.0Z" fill="#008000"/>
<path d="M632.2,176.1 L639.0,176.1 L635.6,181.8Z" fill="#008000"/>
<path d="M644.0,185.7 L650.8,185.7 L647.4,191.4Z" fill="#008000"/>
<path d="M647.6,203.7 L654.4,203.7 L651.0,209.4Z" fill="#008000"/>
<path d="M654.8,203.7 L661.6,203.7 L658.2,209.4Z" fill="#008000"/>
<path d="M657.6,210.1 L664.4,210.1 L661.0,215.8Z" fill="#008000"/>
<path d="M661.1,210.9 L667.9,210.9 L664.5,216.6Z" fill="#008000"/>
<path d="M664.5,210.1 L671.3,210.1 L667.9,215.8Z" fill="#008000"/>
<path d="M668.0,210.9 L674.8,210.9 L671.4,216.6Z" fill="#008000"/>
<path d="M671.4,210.1 L678.2,210.1 L674.8,215.8Z" fill="#008000"/>
<path d="M674.9,210.9 L681.6,210.9 L678.2,216.6Z" fill="#008000"/>
<path d="M678.3,210.1 L685.1,210.1 L681.7,215.8Z" fill="#008000"/>
<path d="M681.8,210.9 L688.5,210.9 L685.1,216.6Z" fill="#008000"/>
<path d="M685.2,210.1 L692.0,210.1 L688.6,215.8Z" fill="#008000"/>
<path d="M688.6,210.9 L695.4,210.9 L692.0,216.6Z" fill="#008000"/>
<path d="M692.1,210.1 L698.9,210.1 L695.5,215.8Z" fill="#008000"/>
<path d="M695.6,210.9 L702.4,210.9 L699.0,216.6Z" fill="#008000"/>
<path d="M699.0,210.1 L705.8,210.1 L702.4,215.8Z" fill="#008000"/>
<path d="M702.5,210.9 L709.2,210.9 L705.9,216.6Z" fill="#008000"/>
<path d="M73.0,58.1 L77.1,58.5 L81.1,58.9 L85.2,59.5 L89.3,60.2 L93.3,60.9 L97.4,61.7 L101.5,62.7 L105.5,63.7 L109.6,64.8 L113.7,65.9 L117.7,67.2 L121.8,68.6 L125.9,70.0 L129.9,71.6 L134.0,73.2 L138.1,74.9 L142.2,76.7 L146.2,78.6 L150.3,80.6 L154.4,82.7 L158.4,84.8 L162.5,87.1 L166.6,89.4 L170.6,91.8 L174.7,94.3 L178.8,97.0 L182.8,99.6 L186.9,102.4 L191.0,105.3 L195.0,108.2 L199.1,111.3 L203.2,114.4 L207.2,117.7 L211.3,121.0 L215.4,124.4 L219.4,127.9 L223.5,131.4 L227.6,135.1 L231.6,138.8 L235.7,142.7 L239.8,146.6 L243.8,150.6 L247.9,154.8 L252.0,159.0 L256.1,163.2 L260.1,167.6 L264.2,172.1 L268.3,176.6 L272.3,181.3 L276.4,186.0 L280.5,190.8 L284.5,195.7 L288.6,200.7 L292.7,205.8 L296.7,211.0 L300.8,216.2 L304.9,221.6 L308.9,227.0 L313.0,232.5" stroke="#f4f850" stroke-width="1.5" fill="none"/>
<path d="M422.0,56.3 L426.5,56.1 L431.0,55.9 L435.6,55.9 L440.1,56.0 L444.6,56.2 L449.1,56.4 L453.7,56.8 L458.2,57.4 L462.7,58.0 L467.2,58.7 L471.7,59.5 L476.3,60.5 L480.8,61.5 L485.3,62.7 L489.8,64.0 L494.4,65.3 L498.9,66.8 L503.4,68.4 L507.9,70.1 L512.4,71.9 L517.0,73.8 L521.5,75.9 L526.0,78.0 L530.5,80.2 L535.1,82.6 L539.6,85.1 L544.1,87.6 L548.6,90.3 L553.1,93.1 L557.7,96.0 L562.2,99.0 L566.7,102.1 L571.2,105.3 L575.7,108.7 L580.3,112.1 L584.8,115.6 L589.3,119.3 L593.8,123.1 L598.4,126.9 L602.9,130.9 L607.4,135.0 L611.9,139.2 L616.4,143.5 L621.0,147.9 L625.5,152.4 L630.0,157.1 L634.5,161.8 L639.1,166.6 L643.6,171.6 L648.1,176.7 L652.6,181.8 L657.1,187.1 L661.7,192.5 L666.2,198.0 L670.7,203.6 L675.2,209.3 L679.8,215.1 L684.3,221.1 L688.8,227.1" stroke="#f4f850" stroke-width="1.5" fill="none"/>
<rect x="632.1" y="30.0" width="4.6" height="4.6" fill="#ff0000"/>
<circle cx="634.6" cy="47.2" r="2.6" fill="#088a86"/>
<path d="M634.4,59.1 L637.6,64.9 L631.2,64.9Z" fill="#ffff30"/>
<path d="M631.1,75.8 L637.7,75.8 L634.4,81.6Z" fill="#008000"/>
<text x="651.4" y="35.9" font-size="12.3" font-style="italic" fill="#2e2e2e">Salix babylonica</text>
<text x="651.4" y="51.1" font-size="12.3" font-style="italic" fill="#2e2e2e">Ginkgo biloba</text>
<text x="651.4" y="66.3" font-size="12.3" font-style="italic" fill="#2e2e2e">Acer mono</text>
<text x="651.4" y="81.5" font-size="12.3" font-style="italic" fill="#2e2e2e">Cotinus coggygria</text>
</svg></body></html>
